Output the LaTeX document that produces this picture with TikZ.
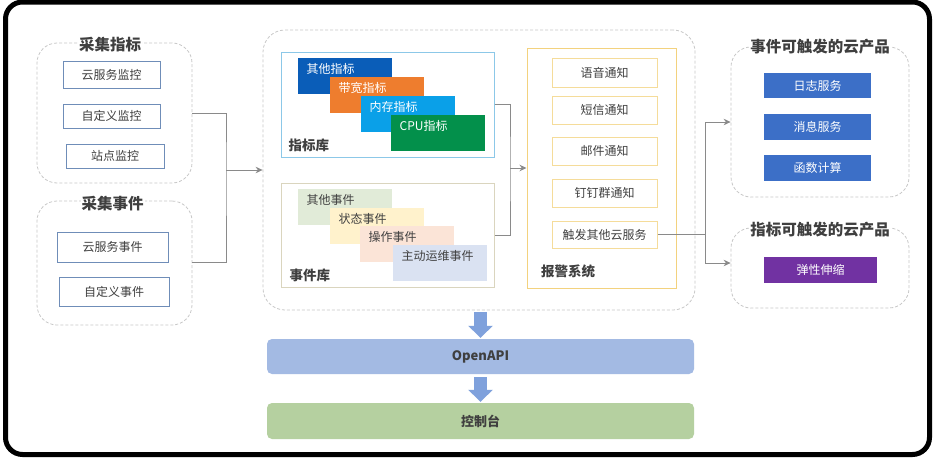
\documentclass[tikz,border=0pt]{standalone}
\usepackage{fontspec}
\setmainfont{Noto Sans CJK SC}
\usetikzlibrary{arrows.meta}
\definecolor{grpgray}{HTML}{C8C8C8}
\definecolor{titlegray}{HTML}{3F3F3F}
\definecolor{txtgray}{HTML}{404040}
\definecolor{lblue}{HTML}{6F8DB8}
\definecolor{goldb}{HTML}{F3D27E}
\definecolor{goldi}{HTML}{F5DC9A}
\definecolor{libblue}{HTML}{8CC8E8}
\definecolor{libbeige}{HTML}{DAD5BE}
\definecolor{conngray}{HTML}{8A8A8A}
\definecolor{cdblue}{HTML}{0A5DB8}
\definecolor{corange}{HTML}{EE7D2E}
\definecolor{clblue}{HTML}{0AA0E8}
\definecolor{cgreen}{HTML}{03904B}
\definecolor{egreen}{HTML}{E1EBD8}
\definecolor{eyellow}{HTML}{FFF2CC}
\definecolor{epink}{HTML}{FBE4D7}
\definecolor{eblue}{HTML}{DAE2F2}
\definecolor{rblue}{HTML}{3C6FC7}
\definecolor{rpurple}{HTML}{7132A2}
\definecolor{apiblue}{HTML}{A3BAE3}
\definecolor{conggreen}{HTML}{B5D0A0}
\definecolor{arrowblue}{HTML}{7FA1DC}
\begin{document}
\begin{tikzpicture}[x=1pt,y=-1pt,
  grp/.style={draw=grpgray, dash pattern=on 3pt off 2pt, rounded corners=20pt, line width=0.8pt, inner sep=0},
  ttl/.style={font=\fontsize{15.5}{18}\selectfont\bfseries, text=titlegray, fill=white, inner sep=1pt},
  lbl/.style={font=\fontsize{13.5}{16}\selectfont\bfseries, text=titlegray, anchor=west, inner sep=0},
  lbox/.style={draw=lblue, line width=0.9pt, fill=white, font=\fontsize{12}{14}\selectfont, text=txtgray, inner sep=0},
  abox/.style={draw=goldi, line width=1pt, fill=white, font=\fontsize{12}{14}\selectfont, text=txtgray, inner sep=0, minimum width=105pt},
  rbox/.style={fill=rblue, font=\fontsize{12}{14}\selectfont, text=white, inner sep=0, minimum width=107pt},
  cbox/.style={anchor=north west, inner sep=0, minimum width=94pt, minimum height=36pt},
  ctext/.style={anchor=west, inner sep=0, font=\fontsize{12}{14}\selectfont},
  bar/.style={rounded corners=5pt, minimum width=427pt, inner sep=0, font=\fontsize{13}{15}\selectfont\bfseries, text=titlegray},
  conn/.style={draw=conngray, line width=1pt},
  arr/.style={conn, -{Stealth[length=7pt,width=6.5pt]}},
  blockarr/.style={draw=arrowblue, line width=13pt, -{Triangle[length=12pt,width=24pt]}}
]
\path[use as bounding box, fill=white] (0,0) rectangle (935,458);
\draw[line width=5pt, rounded corners=17pt] (5.5,2) rectangle (929.5,454.5);

% left groups
\node[grp, minimum width=155pt, minimum height=140pt] (g1) at (114.5,113) {};
\node[ttl] (g1t) at (110,45) {采集指标};
\node[lbox, minimum width=97pt, minimum height=27pt] (b1) at (111.5,74.5) {云服务监控};
\node[lbox, minimum width=97pt, minimum height=24pt] (b2) at (111.5,116) {自定义监控};
\node[lbox, minimum width=98pt, minimum height=24pt] (b3) at (115,156) {站点监控};

\node[grp, minimum width=155pt, minimum height=124pt] (g2) at (114.5,263) {};
\node[ttl] (g2t) at (112.5,204) {采集事件};
\node[lbox, minimum width=111pt, minimum height=30pt] (b4) at (112.5,247) {云服务事件};
\node[lbox, minimum width=110pt, minimum height=29pt] (b5) at (114,291.5) {自定义事件};

% middle group
\node[grp, rounded corners=22pt, minimum width=432pt, minimum height=280pt] (mid) at (479,170) {};

\node[draw=libblue, line width=1pt, inner sep=0, minimum width=213pt, minimum height=105pt] (lib1) at (387.5,104.5) {};
\node[cbox, fill=cdblue] (m1) at (298,58) {};
\node[cbox, fill=corange] (m2) at (330,77) {};
\node[cbox, fill=clblue] (m3) at (361,96) {};
\node[cbox, fill=cgreen] (m4) at (391,115) {};
\node[ctext, text=white] (m1t) at ([xshift=8.5pt,yshift=-11pt]m1.north west) {其他指标};
\node[ctext, text=white] (m2t) at ([xshift=8.5pt,yshift=-11pt]m2.north west) {带宽指标};
\node[ctext, text=white] (m3t) at ([xshift=8.5pt,yshift=-11pt]m3.north west) {内存指标};
\node[ctext, text=white] (m4t) at ([xshift=8.5pt,yshift=-11pt]m4.north west) {CPU指标};
\node[lbl] (lib1t) at (288.5,145) {指标库};

\node[draw=libbeige, line width=1pt, inner sep=0, minimum width=213pt, minimum height=104pt] (lib2) at (387.5,235) {};
\node[cbox, fill=egreen] (e1) at (298,189) {};
\node[cbox, fill=eyellow] (e2) at (330,208) {};
\node[cbox, fill=epink] (e3) at (360,226) {};
\node[cbox, fill=eblue] (e4) at (393,245) {};
\node[ctext, text=txtgray] (e1t) at ([xshift=8.5pt,yshift=-11pt]e1.north west) {其他事件};
\node[ctext, text=txtgray] (e2t) at ([xshift=8.5pt,yshift=-11pt]e2.north west) {状态事件};
\node[ctext, text=txtgray] (e3t) at ([xshift=8.5pt,yshift=-11pt]e3.north west) {操作事件};
\node[ctext, text=txtgray] (e4t) at ([xshift=8.5pt,yshift=-11pt]e4.north west) {主动运维事件};
\node[lbl] (lib2t) at (289.5,275) {事件库};

% alarm system
\node[draw=goldb, line width=1pt, inner sep=0, minimum width=149pt, minimum height=240pt] (alarm) at (601.5,168) {};
\node[abox, minimum height=29pt] (a1) at (604.5,72.5) {语音通知};
\node[abox, minimum height=28pt] (a2) at (604.5,110) {短信通知};
\node[abox, minimum height=28pt] (a3) at (604.5,151) {邮件通知};
\node[abox, minimum height=28pt] (a4) at (604.5,193) {钉钉群通知};
\node[abox, minimum height=27pt] (a5) at (604.5,234.5) {触发其他云服务};
\node[lbl] (alarmt) at (541,271) {报警系统};

% right groups
\node[grp, minimum width=178pt, minimum height=150pt] (rA) at (820,122) {};
\node[ttl] (rAt) at (820,47) {事件可触发的云产品};
\node[rbox, minimum height=25pt] (r1) at (817.5,85.5) {日志服务};
\node[rbox, minimum height=26pt] (r2) at (817.5,127) {消息服务};
\node[rbox, minimum height=26pt] (r3) at (817.5,168) {函数计算};

\node[grp, minimum width=178pt, minimum height=80pt] (rB) at (820,268) {};
\node[ttl] (rBt) at (820,230) {指标可触发的云产品};
\node[rbox, fill=rpurple, minimum width=113pt, minimum height=26pt] (r4) at (820.5,270) {弹性伸缩};

% bottom bars
\node[bar, fill=apiblue, minimum height=35pt] (api) at (480.5,356.5) {OpenAPI};
\node[bar, fill=conggreen, minimum height=36pt] (con) at (480.5,421) {控制台};

% connectors
\coordinate (j1) at (226,170);
\draw[conn] (g1.east) -| (j1) |- ([yshift=1pt]g2.east);
\draw[arr] (j1) -- (mid.west);

\coordinate (j2) at (510,168);
\draw[conn] (lib1.east) -| (j2) |- (lib2.east);
\draw[arr] (j2) -- (alarm.west);

\coordinate (j3) at (705,234.5);
\draw[conn] (a5.east) -- (j3);
\draw[arr] (j3) |- (rA.west);
\draw[arr] (j3) |- ([yshift=5pt]rB.west);

\draw[blockarr] ([yshift=-2pt]mid.south -| api.north) -- ([yshift=1pt]api.north);
\draw[blockarr] ([yshift=-3pt]api.south) -- ([yshift=1pt]con.north);
\end{tikzpicture}
\end{document}
